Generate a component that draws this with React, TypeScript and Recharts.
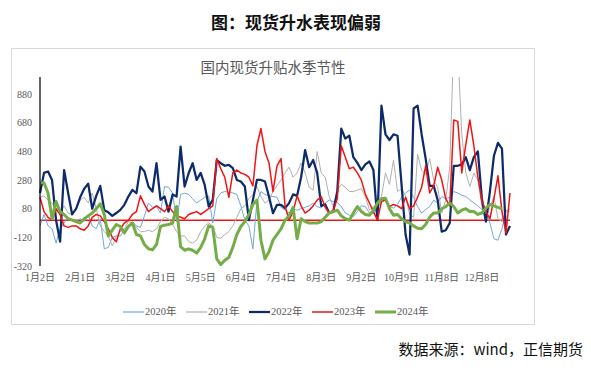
import { LineChart, Line, XAxis, YAxis, ReferenceLine, Legend } from "recharts"

// x positions are trading-day slots; a label every 10 slots
const tickLabels = ["1月2日", "2月1日", "3月2日", "4月1日", "5月5日", "6月4日", "7月4日", "8月3日", "9月2日", "10月9日", "11月8日", "12月8日"]
const tickSlots = [0, 10, 20, 30, 40, 50, 60, 70, 80, 90, 100, 110]
const yTicks = [-320, -120, 80, 280, 480, 680, 880]

const y2020 = [
  -40, 40, -40, -60, -160, -60, -20, 20, 0, -10,
  10, -10, 40, -40, -60, 10, -200, -190, -120, -110,
  -110, -70, -40, -10, -40, -50, 30, 120, 90, 95,
  50, 235, 230, 190, -10, 180, 188, 180, 150, 120,
  140, 160, 170, -20, 150, 190, 200, 195, 190, 180,
  100, 0, -40, -200, 130, 200, 180, 170, 165, 160,
  90, 70, 50, 80, 70, 80, 90, 100, 120, 95,
  85, 120, 140, 130, 125, 95, 50, 35, 25, 60,
  100, 95, 50, 45, 90, 130, 140, 95, 85, 110,
  160, 190, 210, 160, 95, 50, 75, 95, 140, 120,
  165, 150, 160, 200, 190, 175, 165, 142, 120, 100,
  75, 55, -20, -130, -140, -60, 60, 80,
]

const y2021 = [
  160, 170, 140, 120, 70, 50, 100, 50, 40, 80,
  140, 160, 120, 190, 80, -40, -80, -110, -180, -110,
  -80, -60, -10, -20, -50, -80, -80, -70, -80, -60,
  -10, 20, 10, -30, -80, -110, -110, -150, -160, -140,
  -80, -40, -20, -40, -120, -126, -100, -80, -40, 20,
  80, 100, 150, 180, 235, 165, 120, 140, 200, 240,
  281, 330, 370, 300, 330, 400, 330, 230, 210, 480,
  330, 300, 165, 95, 210, 250, 230, 200, 200, 210,
  220, 165, 70, 95, 60, 165, 330, 250, 420, 200,
  220, 170, 40, 20, 460, 350, 320, 430, 280, 230,
  50, 140, 374, 1250, 1200, 600, 330, 235, 328, 280,
  95, 0, 95, 165, 10, -10, 70, 60,
]

const y2022 = [
  190, 330, 340, 280, 0, -150, 350, 190, 40, 80,
  160, 220, 255, 80, 170, 240, 70, 55, 30, 50,
  72, 107, 165, 212, 188, 374, 340, 235, 200, 398,
  142, 165, 60, 180, 165, 514, 235, 328, 398, 281,
  330, 246, 95, 142, 420, 398, 380, 386, 363, 281,
  270, 235, 0, 142, 281, 281, 270, 165, 49, 107,
  107, 84, 119, 180, 170, 300, 490, 370, 420, 330,
  100, 110, 50, 60, 200, 640, 570, 590, 440, 400,
  350, 390, 410, 350, 0, 800, 600, 560, 600, 590,
  250, -100, -240, 780, 800, 600, 430, 240, 240, 140,
  -80, -70, -20, 380, 380, 390, 440, 350, 440, 480,
  150, -10, 200, 450, 540, 500, -100, -40,
]

const y2023 = [
  160, 60, 20, 0, 80, 40, -40, -50, -40, -40,
  -60, -70, -40, 20, 40, 30, -10, -60, -120, -150,
  -60, -20, 0, 40, 60, 170, 110, 60, 80, 100,
  80, 60, 100, 60, 30, 20, 10, 40, 50, 60,
  40, 60, 80, 100, 430, 360, 300, 160, 330, 350,
  330, 320, 300, 240, 520, 640, 480, 400, 200, 380,
  430, 100, 0, 60, 170, 100, 50, 70, 100, 140,
  165, 90, 50, 70, 150, 520, 440, 360, 370, 330,
  280, 180, 120, 60, 0, 130, 140, 95, 110, 100,
  80, 160, 80, 100, 160, 230, 380, 190, 240, 370,
  280, 150, 100, 700, 690, 330, 530, 700, 520, 300,
  140, 60, 10, 150, 310, 60, -90, 190,
]

const y2024 = [
  264, 260, 190, 10, 130, 60, 40, 10, 0, -10,
  -20, 10, 30, 50, 80, 115, 40, -110, -70, -30,
  -44, -90, -44, -20, -100, -110, -170, -200, -207, -170,
  -44, -35, -30, -20, 95, -184, -210, -200, -210, -230,
  -190, -130, -40, -50, -270, -310, -280, -260, -190, -100,
  -44, -10, 40, 110, 140, -140, -270, -220, -140, -100,
  -60, 0, 30, 90, -130, 10, -10, -20, -20, -20,
  -10, 20, 50, 60, 70, 30, 10, 0, 50, 95,
  60, 40, 35, 70, 120, 150, 153, 80, 35, 40,
  10, -10, -20, -40, -56, -60, -30, 20, 50, 50,
  80, 95, 120, 95, 50, 70, 80, 60, 60, 40,
  50, 85, 110, 100, 90, 80, null, null,
]

const SERIES = [
  { key: "y2020", name: "2020年", color: "#6fa8dc", width: 1 },
  { key: "y2021", name: "2021年", color: "#b0b0b0", width: 1 },
  { key: "y2022", name: "2022年", color: "#0d2b6b", width: 2.25 },
  { key: "y2023", name: "2023年", color: "#f01414", width: 1.5 },
  { key: "y2024", name: "2024年", color: "#72ad47", width: 3 },
]

const data = y2020.map((v, i) => ({
  i,
  y2020: v,
  y2021: y2021[i],
  y2022: y2022[i],
  y2023: y2023[i],
  y2024: y2024[i],
}))

const FONT = '"Liberation Serif", "Noto Sans CJK SC", serif'
const CJK = '"Noto Sans CJK SC", "Noto Sans", sans-serif'

function LegendRow() {
  return (
    <div style={{ display: "flex", fontFamily: FONT, fontSize: 10.5, color: "#595959", lineHeight: "16px" }}>
      {SERIES.map((s) => (
        <div key={s.key} style={{ display: "flex", alignItems: "center", width: 63 }}>
          <svg width={21} height={16} style={{ marginRight: 1 }}>
            <line x1={0} y1={8} x2={21} y2={8} stroke={s.color} strokeWidth={Math.max(s.width, 1.2)} />
          </svg>
          <span>{s.name}</span>
        </div>
      ))}
    </div>
  )
}

export default function App() {
  return (
    <div style={{ position: "fixed", left: 0, top: 0, width: 591, height: 370, background: "#fff" }}>
      <div
        style={{
          position: "absolute",
          left: 296,
          top: 21,
          transform: "translate(-50%, -50%)",
          fontFamily: CJK,
          fontWeight: 700,
          fontSize: 17,
          color: "#111",
          whiteSpace: "nowrap",
        }}
      >
        图：现货升水表现偏弱
      </div>

      {/* chart frame */}
      <div
        style={{
          position: "absolute",
          left: 11,
          top: 48,
          width: 524,
          height: 277,
          border: "1px solid #d9d9d9",
          boxSizing: "border-box",
        }}
      />

      <div
        style={{
          position: "absolute",
          left: 273,
          top: 66,
          transform: "translate(-50%, -50%)",
          fontFamily: CJK,
          fontSize: 14.5,
          color: "#595959",
          whiteSpace: "nowrap",
        }}
      >
        国内现货升贴水季节性
      </div>

      <div style={{ position: "absolute", left: 0, top: 0 }}>
        <LineChart width={591} height={370} data={data} margin={{ top: 77, right: 81, bottom: 0, left: 0 }}>
          <XAxis
            dataKey="i"
            type="number"
            domain={[0, 117]}
            ticks={tickSlots}
            interval={0}
            tickFormatter={(v: number) => tickLabels[tickSlots.indexOf(v)] ?? ""}
            axisLine={false}
            tickLine={false}
            height={104}
            tick={{ fill: "#595959", fontSize: 10, fontFamily: FONT }}
          />
          <YAxis
            domain={[-320, 1000]}
            ticks={yTicks}
            interval={0}
            allowDataOverflow
            width={40}
            axisLine={{ stroke: "#000", strokeWidth: 1.2 }}
            tickLine={false}
            tick={{ fill: "#595959", fontSize: 10, fontFamily: FONT }}
          />
          <ReferenceLine y={0} stroke="#e81818" strokeWidth={1.5} />
          {SERIES.map((s) => (
            <Line
              key={s.key}
              type="linear"
              dataKey={s.key}
              name={s.name}
              stroke={s.color}
              strokeWidth={s.width}
              dot={false}
              activeDot={false}
              strokeLinejoin="round"
              isAnimationActive={false}
            />
          ))}
          <Legend
            layout="horizontal"
            verticalAlign="middle"
            align="center"
            wrapperStyle={{ top: 304, left: 123, width: 330, height: 16 }}
            content={() => <LegendRow />}
          />
        </LineChart>
      </div>

      <div
        style={{
          position: "absolute",
          right: 8,
          top: 348,
          transform: "translateY(-50%)",
          fontFamily: CJK,
          fontSize: 15,
          color: "#111",
          whiteSpace: "nowrap",
        }}
      >
        数据来源：wind，正信期货
      </div>
    </div>
  )
}
